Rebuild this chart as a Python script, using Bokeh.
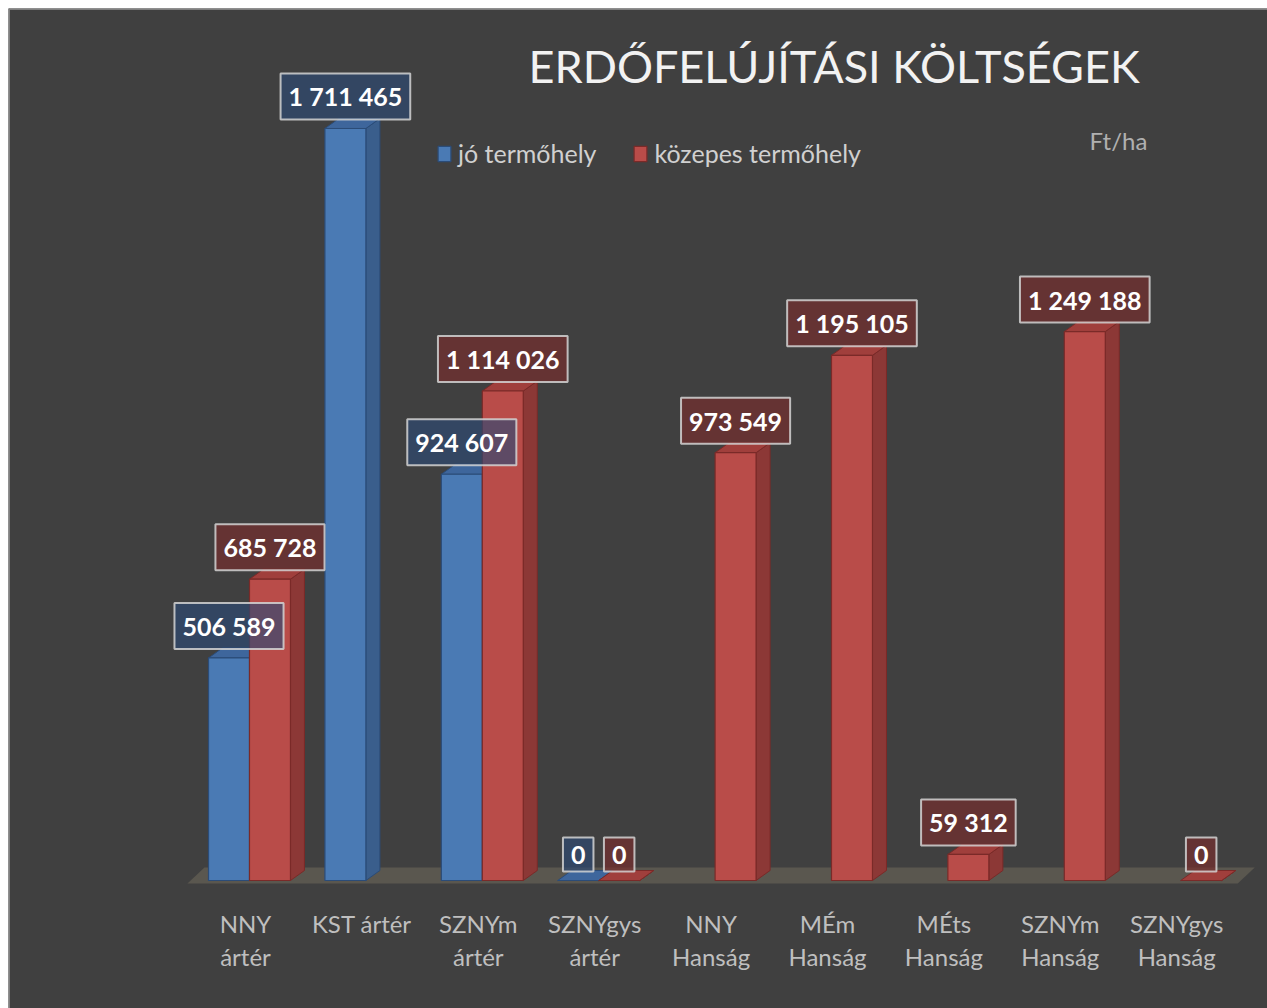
from bokeh.plotting import figure
from bokeh.models import Range1d, Legend, LegendItem, Label, ColumnDataSource, Span
from bokeh.core.properties import value
from bokeh.embed import file_html
from bokeh.resources import INLINE

# ---- data ----
categories = ["NNY\nártér", "KST ártér", "SZNYm\nártér", "SZNYgys\nártér",
              "NNY\nHanság", "MÉm\nHanság", "MÉts\nHanság", "SZNYm\nHanság", "SZNYgys\nHanság"]
jo_termohely = [506589, 1711465, 924607, 0, None, None, None, None, None]
kozepes_termohely = [685728, None, 1114026, 0, 973549, 1195105, 59312, 1249188, 0]
series_names = ["jó termőhely", "közepes termőhely"]
title_text = "ERDŐFELÚJÍTÁSI KÖLTSÉGEK"
unit_text = "Ft/ha"

FONT = "Lato"
W, H = 1267, 1008
MB = 8
FW, FH = W - MB, H - MB
X0, X1 = -2.0704, 8.7457
Y0, Y1 = -291300, 1984524
px_x = FW / (X1 - X0)
px_y = FH / (Y1 - Y0)
BAR_W = 0.352
DX = 14 / px_x
DY = 10 / px_y

p = figure(width=W, height=H, output_backend="svg", toolbar_location=None,
           x_range=Range1d(X0, X1), y_range=Range1d(Y0, Y1),
           x_axis_location=None, y_axis_location=None,
           min_border_left=MB, min_border_top=MB, min_border_right=0, min_border_bottom=0)
p.grid.visible = False
p.background_fill_color = "#404040"
p.border_fill_color = "white"
p.outline_line_color = None
# chart border (visible on top and left edges only, as in the cropped original)
p.add_layout(Span(location=Y1, dimension="width", line_color="#808080", line_width=3))
p.add_layout(Span(location=X0, dimension="height", line_color="#808080", line_width=3))

# floor
fdx, fdy = 17 / px_x, 16 / px_y
fl, fr = -0.533, len(categories) - 0.51
fy = -3 / px_y
p.patch([fl, fr, fr + fdx, fl + fdx], [fy, fy, fy + fdy, fy + fdy],
        fill_color="#5a574f", line_color=None)

styles = [
    dict(front="#4a7ab4", side="#3a5e8c", top="#3e669c", line="#2b4c78",
         box="#2c4a74"),
    dict(front="#b94c49", side="#8c3836", top="#a03f3c", line="#7a2a28",
         box="#7a2d2d"),
]
series = [jo_termohely, kozepes_termohely]
renderers = []
label_x, label_y, label_t, label_c = [], [], [], []
for s, (vals, st) in enumerate(zip(series, styles)):
    idx = [i for i, v in enumerate(vals) if v is not None]
    left = [i - BAR_W + s * BAR_W for i in idx]
    right = [l + BAR_W for l in left]
    top = [vals[i] for i in idx]
    side_xs = [[r, r + DX, r + DX, r] for r in right]
    side_ys = [[0, DY, t + DY, t] for t in top]
    top_xs = [[l, r, r + DX, l + DX] for l, r in zip(left, right)]
    top_ys = [[t, t, t + DY, t + DY] for t in top]
    p.patches(side_xs, side_ys, fill_color=st["side"], line_color=st["line"], line_width=1)
    p.patches(top_xs, top_ys, fill_color=st["top"], line_color=st["line"], line_width=1)
    r = p.quad(left=left, right=right, bottom=0, top=top,
               fill_color=st["front"], line_color=st["line"], line_width=1.2)
    renderers.append(r)
    for l, t in zip(left, top):
        label_x.append(l + BAR_W / 2)
        label_y.append(t)
        label_t.append(f"{t:,}".replace(",", " "))
        label_c.append(st["box"])

lab_src = ColumnDataSource(dict(x=label_x, y=label_y, t=label_t, c=label_c))
p.text(x="x", y="y", text="t", source=lab_src, text_align="center",
       text_baseline="bottom", y_offset=-9, text_color="white",
       text_font=value(FONT), text_font_style="bold", text_font_size="25px",
       padding=8, background_fill_color="c", background_fill_alpha=0.65,
       border_line_color="#d4d4d4", border_line_width=2, border_line_alpha=0.85)

# category labels
cat_src = ColumnDataSource(dict(x=list(range(len(categories))), y=[0] * len(categories),
                                t=categories))
p.text(x="x", y="y", text="t", source=cat_src, text_align="center",
       text_baseline="top", x_offset=-4, y_offset=28, text_color="#bfbfbf",
       text_font=value(FONT), text_font_size="24px", text_line_height=1.17)

# legend
legend = Legend(items=[LegendItem(label=n, renderers=[r]) for n, r in zip(series_names, renderers)],
                orientation="horizontal", location=(428, 840),
                background_fill_alpha=0, border_line_color=None,
                label_text_color="#d0d0d0", label_text_font=FONT,
                label_text_font_size="25px", glyph_width=16, glyph_height=19,
                label_standoff=6, spacing=36, padding=0, margin=0)
p.add_layout(legend, "center")

p.add_layout(Label(x=520, y=916, x_units="screen", y_units="screen", text=title_text,
                   text_font=FONT, text_font_size="45px", text_color="#f2f2f2"))
p.add_layout(Label(x=1081, y=854, x_units="screen", y_units="screen", text=unit_text,
                   text_font=FONT, text_font_size="24px", text_color="#b0b0b0"))

open("out.html", "w").write(file_html(p, INLINE))
